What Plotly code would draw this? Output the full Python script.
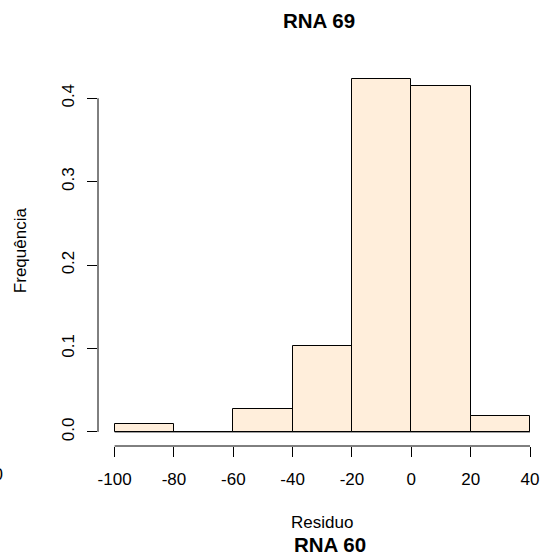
import numpy as np
import plotly.graph_objects as go

# Histogram of residuals (relative frequency per 20-unit bin)
breaks = [-100, -80, -60, -40, -20, 0, 20, 40]
freq = [0.010, 0.0, 0.027, 0.103, 0.423, 0.415, 0.019]
x_ticks = [-100, -80, -60, -40, -20, 0, 20, 40]
y_ticks = [0.0, 0.1, 0.2, 0.3, 0.4]
y_tick_text = ["0.0", "0.1", "0.2", "0.3", "0.4"]

title = "RNA 69"
x_title = "Residuo"
y_title = "Frequência"
next_title = "RNA 60"
side_label = "40"

FONT = "Liberation Sans, Arial, sans-serif"
FILL = "#FFEEDB"

b = np.array(breaks, dtype=float)
mids = (b[:-1] + b[1:]) / 2
widths = np.diff(b)

ymax = max(freq)
ypad = 0.04 * ymax
xpad = 0.04 * (b[-1] - b[0])

fig = go.Figure()
fig.add_trace(go.Bar(
    x=mids, y=freq, width=widths,
    marker=dict(color=FILL, line=dict(color="black", width=1)),
    hoverinfo="x+y", showlegend=False,
))
# zero-height bins still show their outline along the baseline
fig.add_trace(go.Scatter(
    x=[b[0], b[-1]], y=[0, 0], mode="lines",
    line=dict(color="black", width=1), hoverinfo="skip", showlegend=False,
))

fig.update_layout(
    width=545, height=559,
    margin=dict(l=98, r=0, t=65, b=113),
    paper_bgcolor="white", plot_bgcolor="white",
    font=dict(family=FONT, size=17, color="black"),
    bargap=0,
    xaxis=dict(
        range=[b[0] - xpad, b[0] - xpad + 447 / 2.967],
        tickmode="array", tickvals=x_ticks, ticktext=[str(v) for v in x_ticks],
        ticks="outside", ticklen=10, tickwidth=1, tickcolor="black",
        showgrid=False, zeroline=False, showline=False,
        tickfont=dict(family=FONT, size=17, color="black"),
        ticklabelstandoff=8,
    ),
    yaxis=dict(
        range=[-ypad, ymax + ypad],
        tickmode="array", tickvals=y_ticks, ticktext=y_tick_text,
        ticks="outside", ticklen=10, tickwidth=1, tickcolor="black",
        showgrid=False, zeroline=False, showline=False,
        tickangle=-90,
        tickfont=dict(family=FONT, size=17, color="black"),
        ticklabelstandoff=6,
    ),
    shapes=[
        # y axis line spans only the labelled ticks
        dict(type="line", xref="paper", yref="y", x0=0, x1=0,
             y0=min(y_ticks), y1=max(y_ticks), line=dict(color="black", width=1)),
        # x axis line spans only the labelled ticks
        dict(type="line", xref="x", yref="paper", x0=min(x_ticks), x1=max(x_ticks),
             y0=0, y1=0, line=dict(color="black", width=1)),
    ],
    annotations=[
        dict(text=f"<b>{title}</b>", xref="paper", yref="paper", x=0.494, y=1.1163,
             xanchor="center", yanchor="middle", showarrow=False,
             font=dict(family=FONT, size=20.5, color="black")),
        dict(text=x_title, xref="paper", yref="paper", x=0.501, y=-0.1995,
             xanchor="center", yanchor="middle", showarrow=False,
             font=dict(family=FONT, size=17, color="black")),
        dict(text=f"<b>{next_title}</b>", xref="paper", yref="paper", x=0.519, y=-0.2585,
             xanchor="center", yanchor="middle", showarrow=False,
             font=dict(family=FONT, size=20.5, color="black")),
        dict(text=y_title, xref="paper", yref="paper", x=-0.1745, y=0.514,
             xanchor="center", yanchor="middle", textangle=-90, showarrow=False,
             font=dict(family=FONT, size=17, color="black")),
        dict(text=side_label, xref="paper", yref="paper", x=(5 - 98) / 447, y=-0.0735,
             xanchor="right", yanchor="middle", showarrow=False,
             font=dict(family=FONT, size=17, color="black")),
    ],
)

fig.write_html("out.html")
